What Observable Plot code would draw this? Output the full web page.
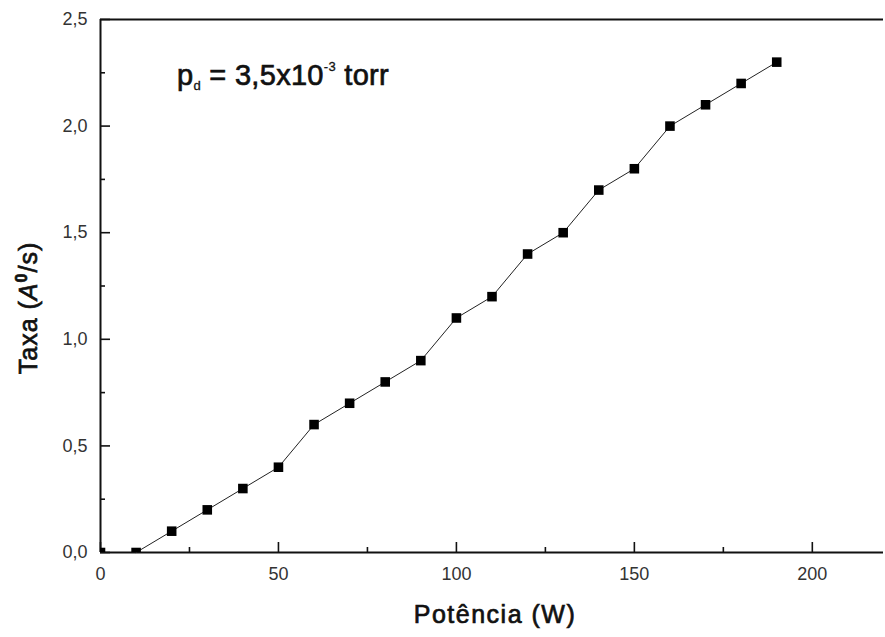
<!DOCTYPE html>
<html>
<head>
<meta charset="utf-8">
<script src="https://cdn.jsdelivr.net/npm/d3@7"></script>
<script src="https://cdn.jsdelivr.net/npm/@observablehq/plot@0.6"></script>
<style>
  html, body { margin: 0; padding: 0; background: #fff; }
  svg { display: block; }
</style>
</head>
<body>
<div id="chart"></div>
<script>
// Data
const potencia = [0, 10, 20, 30, 40, 50, 60, 70, 80, 90, 100, 110, 120, 130, 140, 150, 160, 170, 180, 190];
const taxa     = [0, 0.0, 0.1, 0.2, 0.3, 0.4, 0.6, 0.7, 0.8, 0.9, 1.1, 1.2, 1.4, 1.5, 1.7, 1.8, 2.0, 2.1, 2.2, 2.3];
const xTicks = [0, 50, 100, 150, 200];
const xMinor = [25, 75, 125, 175];
const yTicks = [0, 0.5, 1.0, 1.5, 2.0, 2.5];
const yMinor = [0.25, 0.75, 1.25, 1.75, 2.25];

const data = potencia.map((p, i) => ({x: p, y: taxa[i]}));
const fmtY = d => d3.format(".1f")(d).replace(".", ",");

const W = 885, H = 637, ML = 100, MR = 2, MT = 19, MB = 85;
const plotW = W - ML - MR, plotH = H - MT - MB;
const font = "'Liberation Sans', Arial, sans-serif";

const chart = Plot.plot({
  width: W,
  height: H,
  marginLeft: ML,
  marginRight: MR,
  marginTop: MT,
  marginBottom: MB,
  style: {fontFamily: font, background: "#fff"},
  x: {domain: [0, 220], label: null},
  y: {domain: [0, 2.5], label: null},
  marks: [
    // inward major/minor ticks
    Plot.tickX(xTicks, {x: d => d, insetTop: plotH - 10, stroke: "#111", strokeWidth: 1.6}),
    Plot.tickX(xMinor, {x: d => d, insetTop: plotH - 5, stroke: "#111", strokeWidth: 1.6}),
    Plot.tickY(yTicks, {y: d => d, insetRight: plotW - 10, stroke: "#111", strokeWidth: 1.6}),
    Plot.tickY(yMinor, {y: d => d, insetRight: plotW - 5, stroke: "#111", strokeWidth: 1.6}),
    // frame lines
    Plot.ruleX([0], {stroke: "#111", strokeWidth: 2}),
    Plot.ruleY([0, 2.5], {stroke: "#111", strokeWidth: 2}),
    // tick labels
    Plot.axisX(xTicks, {anchor: "bottom", tickSize: 0, tickPadding: 15, fontSize: 18, fill: "#333", label: null}),
    Plot.axisY(yTicks, {anchor: "left", tickSize: 0, tickPadding: 13, fontSize: 18, fill: "#333", tickFormat: fmtY, label: null}),
    // data
    Plot.line(data.filter(d => d.x > 0), {x: "x", y: "y", stroke: "#222", strokeWidth: 1}),
    Plot.dot(data, {x: "x", y: "y", symbol: "square", r: 5.4, fill: "#000", stroke: "none", clip: true})
  ]
});

const svg = d3.select(chart);
// X axis title
svg.append("text")
  .attr("x", 495).attr("y", 623)
  .attr("text-anchor", "middle")
  .attr("font-family", font)
  .attr("font-size", 25)
  .attr("letter-spacing", 1.5)
  .attr("fill", "#111")
  .attr("stroke", "#111")
  .attr("stroke-width", 0.7)
  .text("Potência (W)");
// Y axis title with italic A and superscript 0
const yt = svg.append("text")
  .attr("transform", "translate(37,308) rotate(-90)")
  .attr("text-anchor", "middle")
  .attr("font-family", font)
  .attr("font-size", 25)
  .attr("letter-spacing", 1)
  .attr("fill", "#111")
  .attr("stroke", "#111")
  .attr("stroke-width", 0.7);
yt.append("tspan").text("Taxa (");
yt.append("tspan").attr("font-style", "italic").text("A");
yt.append("tspan").attr("font-size", 16).attr("dy", -10).attr("font-weight", "bold").text("0");
yt.append("tspan").attr("dy", 10).text("/s)");
// Annotation
const an = svg.append("text")
  .attr("x", 177).attr("y", 85)
  .attr("text-anchor", "start")
  .attr("font-family", font)
  .attr("font-size", 29)
  .attr("letter-spacing", 0.3)
  .attr("fill", "#111")
  .attr("stroke", "#111")
  .attr("stroke-width", 0.7);
an.append("tspan").text("p");
an.append("tspan").attr("font-size", 13).attr("stroke-width", 0.3).attr("dy", 5).text("d");
an.append("tspan").attr("dy", -5).text(" = 3,5x10");
an.append("tspan").attr("font-size", 13).attr("stroke-width", 0.3).attr("dy", -14).text("-3");
an.append("tspan").attr("dy", 14).text(" torr");

document.getElementById("chart").appendChild(chart);
</script>
</body>
</html>
